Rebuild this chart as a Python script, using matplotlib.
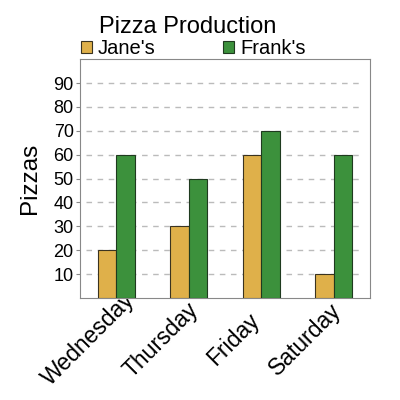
import matplotlib
matplotlib.use("Agg")
import matplotlib.pyplot as plt
import matplotlib.transforms as mtransforms
import numpy as np

days = ["Wednesday", "Thursday", "Friday", "Saturday"]
jane = [20, 30, 60, 10]
frank = [60, 50, 70, 60]
yticks = [10, 20, 30, 40, 50, 60, 70, 80, 90]

plt.rcParams["font.family"] = ["Liberation Sans", "DejaVu Sans"]

fig = plt.figure(figsize=(4, 4), dpi=100)
ax = fig.add_axes([0.2, 0.255, 0.725, 0.597])

x = np.arange(len(days))
w = 0.255
ax.bar(x - w / 2, jane, w, color="#dfb04a", edgecolor="#3a3320", linewidth=0.8, label="Jane's", zorder=3)
ax.bar(x + w / 2, frank, w, color="#3c913c", edgecolor="#1f3a1f", linewidth=0.8, label="Frank's", zorder=3)

for t in yticks:
    ax.axhline(t, xmin=0.02, xmax=0.97, color="#bbbbbb", linestyle=(0, (4, 4)), linewidth=1, zorder=1)

ax.set_xlim(-0.5, len(days) - 0.5)
ax.set_ylim(0, 100)
ax.set_yticks(yticks)
ax.set_xticks(x)
ax.set_xticklabels(days, rotation=45, ha="center", va="center", rotation_mode="anchor", fontsize=16.5)
ax.tick_params(axis="y", labelsize=13, length=3, color="#888888", pad=1.5)
ax.tick_params(axis="x", length=0, pad=30)
# labels are centred on a point below-left of each tick
shift = mtransforms.ScaledTranslation(-0.28, 0, fig.dpi_scale_trans)
for lab in ax.get_xticklabels():
    lab.set_transform(lab.get_transform() + shift)
for s in ax.spines.values():
    s.set_color("#888888")

ax.set_ylabel("Pizzas", fontsize=17.5, labelpad=9)
fig.text(0.47, 0.933, "Pizza Production", ha="center", va="center", fontsize=17)

ax.legend(loc="lower left", bbox_to_anchor=(0, 1.0), ncol=2, frameon=False,
          fontsize=14.5, handlelength=0.55, handleheight=0.55, handletextpad=0.3,
          columnspacing=3.35, borderaxespad=0.05, borderpad=0)

fig.savefig("out.png", dpi=100)
